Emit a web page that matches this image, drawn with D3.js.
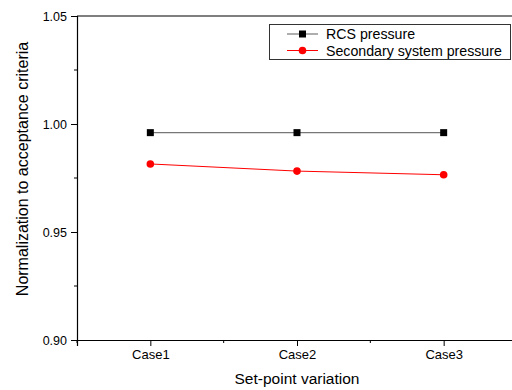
<!DOCTYPE html>
<html><head><meta charset="utf-8">
<script src="https://cdn.jsdelivr.net/npm/d3@7/dist/d3.min.js"></script>
<style>body{margin:0;background:#fff}svg{display:block}text{font-family:"Liberation Sans",Arial,sans-serif}</style>
</head><body><svg id="c" width="512" height="390"></svg>
<script>
const categories = ["Case1","Case2","Case3"];
const rcsPressure = [0.996, 0.996, 0.996];
const secondaryPressure = [0.9815, 0.9782, 0.9765];
const yTicks = [0.90, 0.95, 1.00, 1.05];
const yMinorTicks = [0.925, 0.975, 1.025];
const xMinorTicks = [0.5, 1.5, 2.5, 3.5];
const seriesNames = ["RCS pressure", "Secondary system pressure"];

const svg = d3.select("#c");
const L = 77, R = 517, T = 16, B = 340;
const x = d3.scaleLinear().domain([0.5, 3.5]).range([L, R]);
const y = d3.scaleLinear().domain([0.90, 1.05]).range([B, T]);

svg.append("line").attr("x1",L).attr("x2",R).attr("y1",T).attr("y2",T).attr("stroke","#000").attr("stroke-width",1.2);

const yAxis = d3.axisLeft(y).tickValues(yTicks).tickFormat(d3.format(".2f")).tickSize(6).tickPadding(4);
const gy = svg.append("g").attr("transform",`translate(${L},0)`).call(yAxis);
gy.selectAll("text").attr("font-size",12.5).attr("fill","#000");
gy.select(".domain").attr("stroke","#000").attr("stroke-width",1.2);
gy.selectAll(".tick line").attr("stroke","#000");
gy.selectAll(".minor").data(yMinorTicks).enter().append("line").attr("class","minor")
  .attr("x1",0).attr("x2",-3).attr("y1",d=>y(d)).attr("y2",d=>y(d)).attr("stroke","#000");

const xAxis = d3.axisBottom(x).tickValues([1,2,3]).tickFormat(d=>categories[d-1]).tickSize(6).tickPadding(4);
const gx = svg.append("g").attr("transform",`translate(0,${B})`).call(xAxis);
gx.selectAll("text").attr("font-size",13).attr("fill","#000");
gx.select(".domain").attr("stroke","#000").attr("stroke-width",1.2);
gx.selectAll(".tick line").attr("stroke","#000");
gx.selectAll(".minor").data(xMinorTicks).enter().append("line").attr("class","minor")
  .attr("x1",d=>x(d)).attr("x2",d=>x(d)).attr("y1",0).attr("y2",3).attr("stroke","#000");

svg.append("text").attr("x",297).attr("y",384).attr("text-anchor","middle").attr("font-size",15.5).text("Set-point variation");
svg.append("text").attr("transform","translate(28,169) rotate(-90)").attr("text-anchor","middle").attr("font-size",16).text("Normalization to acceptance criteria");

const line = d3.line().x((d,i)=>x(i+1)).y(d=>y(d));
svg.append("path").datum(rcsPressure).attr("d",line).attr("fill","none").attr("stroke","#777").attr("stroke-width",1.2);
svg.selectAll(".sq").data(rcsPressure).enter().append("rect").attr("class","sq")
  .attr("x",(d,i)=>x(i+1)-3.5).attr("y",d=>y(d)-3.5).attr("width",7).attr("height",7).attr("fill","#000");
svg.append("path").datum(secondaryPressure).attr("d",line).attr("fill","none").attr("stroke","#f00").attr("stroke-width",1);
svg.selectAll(".ci").data(secondaryPressure).enter().append("circle").attr("class","ci")
  .attr("cx",(d,i)=>x(i+1)).attr("cy",d=>y(d)).attr("r",3.8).attr("fill","#f00");

const lg = svg.append("g");
lg.append("rect").attr("x",269.5).attr("y",24.5).attr("width",241).attr("height",35).attr("fill","#fff").attr("stroke","#333").attr("stroke-width",1);
lg.append("line").attr("x1",287).attr("x2",318).attr("y1",34).attr("y2",34).attr("stroke","#777").attr("stroke-width",1.2);
lg.append("rect").attr("x",299).attr("y",30.5).attr("width",7).attr("height",7).attr("fill","#000");
lg.append("line").attr("x1",287).attr("x2",318).attr("y1",50.5).attr("y2",50.5).attr("stroke","#f00").attr("stroke-width",1);
lg.append("circle").attr("cx",302.5).attr("cy",50.5).attr("r",3.8).attr("fill","#f00");
lg.append("text").attr("x",326).attr("y",39).attr("font-size",14.2).text(seriesNames[0]);
lg.append("text").attr("x",326).attr("y",55.5).attr("font-size",14.2).text(seriesNames[1]);
</script></body></html>
